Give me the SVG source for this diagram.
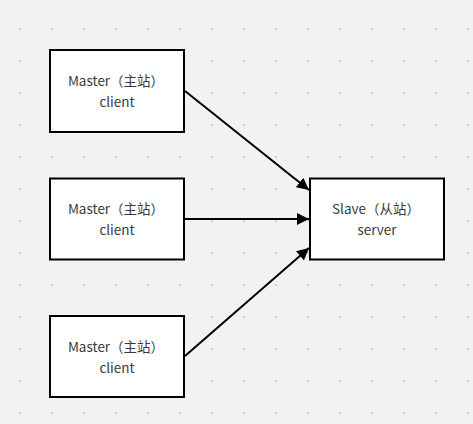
<svg xmlns="http://www.w3.org/2000/svg" width="473" height="424" viewBox="0 0 473 424">
<defs>
<pattern id="dots" x="19" y="28" width="32" height="32" patternUnits="userSpaceOnUse">
<rect x="0" y="0" width="2" height="2" fill="#cfcfd2"/>
</pattern>
<marker id="arr" viewBox="0 0 10 10" refX="10" refY="5" markerWidth="6" markerHeight="6" orient="auto" markerUnits="strokeWidth">
<path d="M0,0 L10,5 L0,10 Z" fill="#000"/>
</marker>
<style>
.box{fill:#fff;stroke:#000;stroke-width:2}
.t{font-family:"Noto Sans CJK SC","Noto Sans",sans-serif;font-size:13.5px;fill:#3a3a3a;text-anchor:middle;dominant-baseline:central}
.c{stroke:#000;stroke-width:2;fill:none;marker-end:url(#arr)}
</style>
</defs>
<rect width="473" height="424" fill="#f2f2f4"/>
<rect width="473" height="424" fill="url(#dots)"/>
<g id="connectors">
<path class="c" d="M185,91 L309,190"/>
<path class="c" d="M185,219 L309,219"/>
<path class="c" d="M185,356 L309,248"/>
</g>
<g id="master1">
<rect class="box" x="50" y="50" width="134" height="82"/>
<text class="t" x="116" y="80">Master（主站）</text>
<text class="t" x="117" y="101">client</text>
</g>
<g id="master2">
<rect class="box" x="50" y="178.5" width="134" height="81"/>
<text class="t" x="116" y="208">Master（主站）</text>
<text class="t" x="117" y="229">client</text>
</g>
<g id="master3">
<rect class="box" x="50" y="316" width="134" height="81"/>
<text class="t" x="116" y="346">Master（主站）</text>
<text class="t" x="117" y="367">client</text>
</g>
<g id="slave">
<rect class="box" x="310" y="178.5" width="134" height="81"/>
<text class="t" x="376" y="208">Slave（从站）</text>
<text class="t" x="377" y="229">server</text>
</g>
</svg>
